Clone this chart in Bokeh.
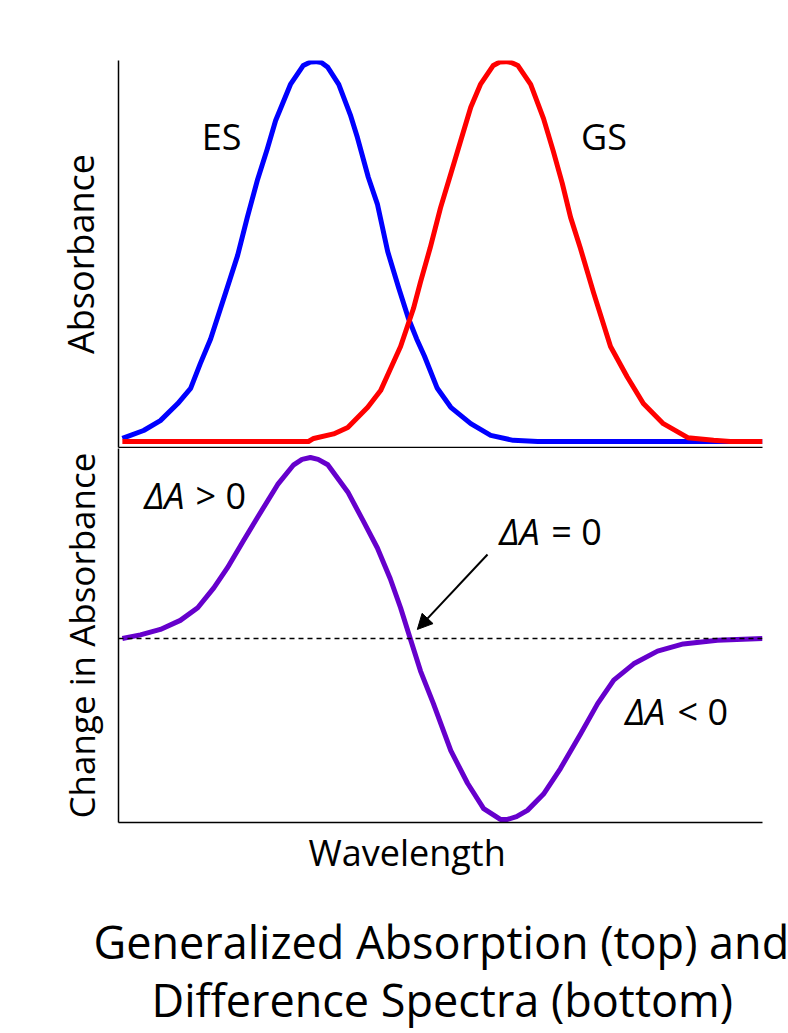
from bokeh.plotting import figure
from bokeh.models import Range1d, FixedTicker, Span, Arrow, NormalHead, Label, Title
from bokeh.layouts import column
from bokeh.embed import file_html
from bokeh.resources import INLINE

# ---------------- data ----------------
# wavelength in arbitrary units (0..100 across the axis)
es_wavelength = [0.6, 3.9, 6.5, 9.2, 11.2, 12.7, 14.3, 16.6, 18.5, 20.0, 21.6, 23.1, 24.4,
                 26.7, 28.7, 29.8, 30.6, 31.5, 32.5, 34.2, 36.0, 37.1, 38.8, 40.2, 41.8, 43.5,
                 45.0, 46.3, 47.5, 49.5, 51.6, 54.7, 57.8, 61.3, 65.1, 100.0]
es_absorbance = [0.008, 0.029, 0.055, 0.10, 0.14, 0.205, 0.27, 0.39, 0.49, 0.59, 0.69, 0.77,
                 0.845, 0.94, 0.99, 0.999, 1.0, 0.998, 0.985, 0.94, 0.86, 0.80, 0.695, 0.625,
                 0.50, 0.405, 0.325, 0.27, 0.225, 0.14, 0.09, 0.047, 0.016, 0.003, 0.0, 0.0]

gs_wavelength = [0.6, 29.5, 30.3, 33.4, 35.6, 38.7, 40.7, 42.2, 43.8, 45.8, 46.9, 48.4, 50.0,
                 51.6, 53.1, 54.7, 56.2, 58.2, 59.2, 60.1, 61.0, 62.0, 64.0, 66.0, 67.5, 68.9,
                 70.2, 71.7, 73.8, 76.4, 79.0, 81.5, 84.6, 88.4, 92.4, 95.0, 100.0]
gs_absorbance = [0.0, 0.0, 0.008, 0.02, 0.037, 0.09, 0.134, 0.19, 0.25, 0.35, 0.42, 0.51, 0.615,
                 0.705, 0.79, 0.88, 0.94, 0.99, 0.999, 1.0, 0.998, 0.99, 0.94, 0.85, 0.765, 0.68,
                 0.59, 0.51, 0.39, 0.25, 0.17, 0.10, 0.047, 0.01, 0.003, 0.0, 0.0]

diff_wavelength = [0.6, 3.4, 6.5, 9.6, 12.3, 14.8, 16.9, 19.4, 21.6, 24.7, 27.2, 28.5, 29.8,
                   31.0, 32.5, 35.6, 38.0, 40.2, 42.2, 43.8, 45.3, 46.9, 48.9, 51.6, 54.2, 56.7,
                   59.3, 60.4, 61.8, 63.5, 66.0, 68.6, 71.7, 74.4, 76.9, 80.0, 83.7, 87.7, 93.0,
                   100.0]
diff_change = [0.0, 0.02, 0.05, 0.10, 0.17, 0.28, 0.39, 0.54, 0.67, 0.85, 0.96, 0.99, 1.0,
               0.99, 0.96, 0.81, 0.65, 0.50, 0.33, 0.17, 0.0, -0.18, -0.36, -0.62, -0.80, -0.94,
               -1.0, -1.0, -0.985, -0.95, -0.86, -0.72, -0.53, -0.36, -0.23, -0.14, -0.07,
               -0.03, -0.01, 0.0]

caption_lines = ["Generalized Absorption (top) and", "Difference Spectra (bottom)"]

FONT = "Open Sans"


def strip_axis(ax):
    ax.ticker = FixedTicker(ticks=[])
    ax.major_tick_out = 0
    ax.major_tick_in = 0
    ax.minor_tick_out = 0
    ax.minor_tick_in = 0
    ax.major_label_standoff = 0
    ax.axis_line_color = "black"
    ax.axis_line_width = 1.5
    ax.axis_label_text_font = FONT
    ax.axis_label_text_font_size = "36px"
    ax.axis_label_text_font_style = "normal"
    ax.axis_label_text_color = "black"


def style(p):
    p.grid.visible = False
    p.outline_line_color = None
    p.background_fill_color = "white"
    p.border_fill_color = "white"
    for ax in p.xaxis + p.yaxis:
        strip_axis(ax)


def label(p, x, y, text, align="center", italic=False, size="36px"):
    p.add_layout(Label(x=x, y=y, text=text, text_align=align, text_baseline="alphabetic",
                       text_font=FONT, text_font_size=size, text_color="black",
                       text_font_style="italic" if italic else "normal"))


def below_title(p, text, size, offset, standoff, valign="bottom"):
    p.add_layout(Title(text=text, align="left", offset=offset, standoff=standoff,
                       vertical_align=valign, text_font=FONT, text_font_size=size,
                       text_font_style="normal", text_color="black"), "below")


# ---------------- top panel: absorption spectra ----------------
p1 = figure(width=788, height=448, output_backend="svg", toolbar_location=None,
            x_range=Range1d(0, 100), y_range=Range1d(-0.0158, 1.003),
            min_border_left=118, min_border_right=26, min_border_top=60, min_border_bottom=1)
p1.line(es_wavelength, es_absorbance, line_color="#0000FF", line_width=5, line_join="round")
p1.line(gs_wavelength, gs_absorbance, line_color="#FF0000", line_width=5, line_join="round")
style(p1)
p1.yaxis.axis_label = "Absorbance"
p1.yaxis.axis_label_standoff = 14
label(p1, 16.0, 0.803, "ES")
label(p1, 75.4, 0.803, "GS")

# ---------------- bottom panel: difference spectrum ----------------
p2 = figure(width=788, height=585, output_backend="svg", toolbar_location=None,
            x_range=Range1d(0, 100), y_range=Range1d(-1.017, 1.050),
            min_border_left=118, min_border_right=26, min_border_top=0, min_border_bottom=211)
p2.add_layout(Span(location=0, dimension="width", line_color="black", line_width=1.5,
                   line_dash="5 4"))
p2.line(diff_wavelength, diff_change, line_color="#6600CC", line_width=5, line_join="round")
style(p2)
p2.yaxis.axis_label = "Change in Absorbance"
p2.yaxis.axis_label_text_font_size = "35px"
p2.yaxis.axis_label_standoff = 14

p2.add_layout(Arrow(end=NormalHead(size=15, fill_color="black", line_color="black"),
                    x_start=57.3, y_start=0.464, x_end=46.4, y_end=0.05,
                    line_color="black", line_width=2))

label(p2, 10.25, 0.790, "ΔA", align="right", italic=True)
label(p2, 11.96, 0.790, "> 0", align="left")
label(p2, 65.4, 0.591, "ΔA", align="right", italic=True)
label(p2, 67.2, 0.591, "= 0", align="left")
label(p2, 84.9, -0.404, "ΔA", align="right", italic=True)
label(p2, 86.8, -0.404, "< 0", align="left")

# x-axis label (slightly left of the frame centre, as in the original) and caption
below_title(p2, "Wavelength", "36px", 190, 7)
below_title(p2, caption_lines[0], "45px", -25, 57)
below_title(p2, caption_lines[1], "45px", 33, -63, valign="top")

layout = column(p1, p2)
open("out.html", "w").write(file_html(layout, INLINE))
